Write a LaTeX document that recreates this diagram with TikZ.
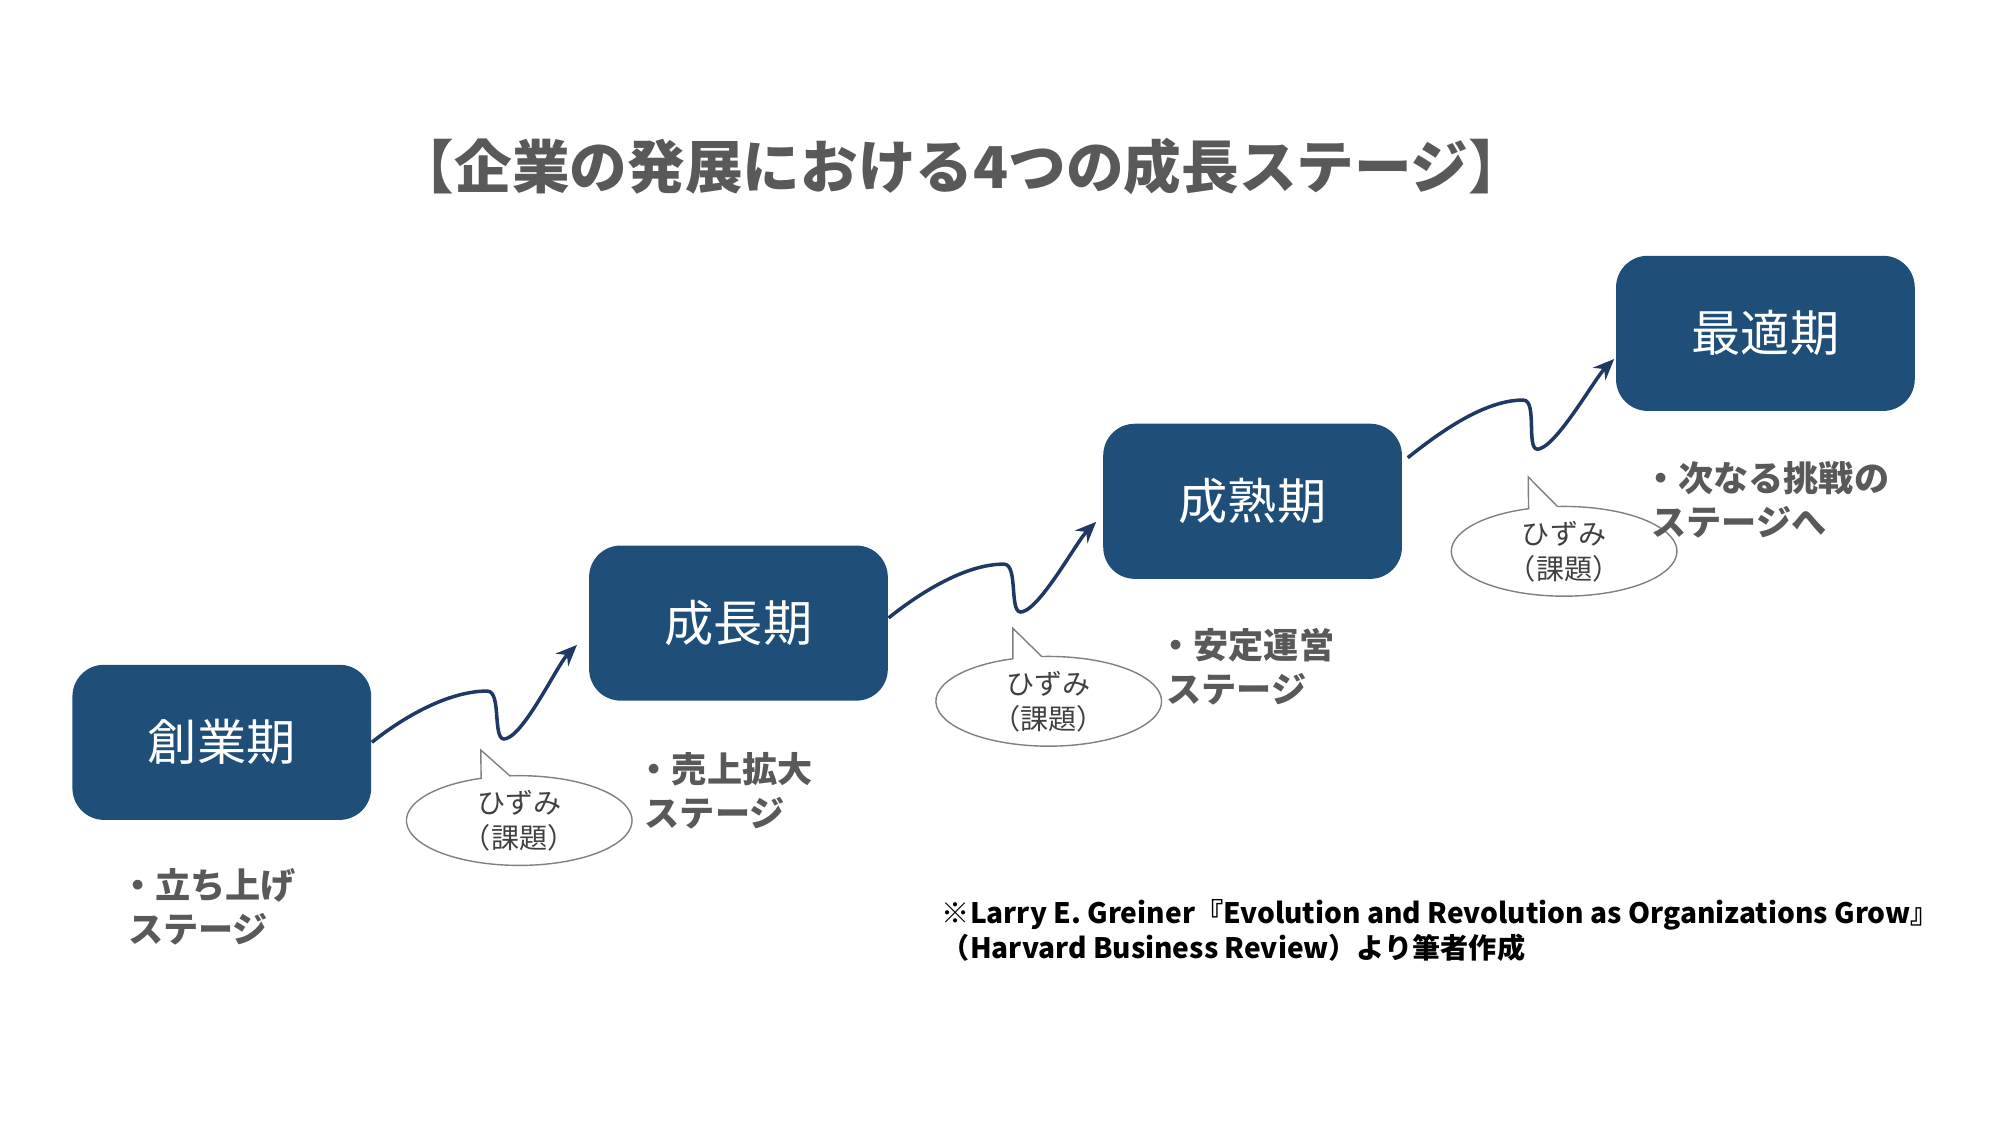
\documentclass[tikz,border=0pt]{standalone}
\usepackage{fontspec}
\setmainfont{Noto Sans CJK JP}
\usetikzlibrary{positioning,calc,shapes.callouts,arrows.meta}
\definecolor{stageblue}{HTML}{1F4E79}
\definecolor{wavecol}{HTML}{203864}
\definecolor{titlegray}{HTML}{595959}
\definecolor{notegray}{HTML}{404040}
\begin{document}
\begin{tikzpicture}[
    x=0.01282cm, y=-0.01282cm,
    stage/.style={fill=stageblue, rounded corners=9pt, minimum width=233*0.01282cm,
        minimum height=121*0.01282cm, text=white, font=\fontsize{14}{16}\selectfont},
    wave/.style={draw=wavecol, line width=1pt, -{Stealth[length=6pt,width=5pt]}},
    strain/.style={ellipse callout, draw=gray, line width=0.4pt, fill=white,
        minimum width=176*0.01282cm, minimum height=70*0.01282cm, inner sep=0pt,
        align=center, text=notegray, font=\fontsize{8}{10}\selectfont},
    remark/.style={anchor=north west, align=left, text=titlegray,
        font=\bfseries\fontsize{10}{12.5}\selectfont}
]
\useasboundingbox (0,0) rectangle (1560,878);

% Title
\node (title) [text=titlegray, font=\bfseries\fontsize{16.4}{18}\selectfont] at (750,130)
    {【企業の発展における4つの成長ステージ】};

% Stages
\node (b1) [stage] at (173,579) {創業期};
\node (b2) [stage] at (576,486) {成長期};
\node (b3) [stage] at (977,391) {成熟期};
\node (b4) [stage] at (1377,260) {最適期};

% Growth waves
\draw[wave] (b1.east) .. controls +(25,-20) and +(-30,0) .. ++(90,-40)
    .. controls +(12,0) and +(-12,5) .. ++(15,37)
    .. controls +(15,-5) and +(-15,15) .. ++(55,-73);
\draw[wave] ($(b2.east)+(0,-4)$) .. controls +(25,-20) and +(-30,0) .. ++(90,-42)
    .. controls +(12,0) and +(-12,5) .. ++(15,37)
    .. controls +(15,-5) and +(-15,15) .. ++(57,-70);
\draw[wave] ($(b3.east)+(4,-34)$) .. controls +(25,-20) and +(-30,0) .. ++(90,-45)
    .. controls +(12,0) and +(-12,5) .. ++(13,38)
    .. controls +(15,-5) and +(-15,15) .. ++(58,-70);

% Strains
\node (c1) [strain, callout absolute pointer={(375,585)}] at (405,640) {ひずみ\\（課題）};
\node (c2) [strain, callout absolute pointer={(790,490)}] at (818,547) {ひずみ\\（課題）};
\node (c3) [strain, callout absolute pointer={(1192,372)}] at (1220,430) {ひずみ\\（課題）};

% Remarks
\node (r1) [remark] at ($(b1.south west)+(28,28)$) {・立ち上げ\\\ ステージ};
\node (r2) [remark] at ($(b2.south west)+(28,30)$) {・売上拡大\\\ ステージ};
\node (r3) [remark] at ($(b3.south west)+(34,28)$) {・安定運営\\\ ステージ};
\node (r4) [remark] at ($(b4.south west)+(12,29)$) {・次なる挑戦の\\\ ステージへ};

% Source
\node (src) [anchor=north west, align=left, font=\bfseries\fontsize{8}{10}\selectfont]
    at (725,692) {※Larry E. Greiner『Evolution and Revolution as Organizations Grow』\\（Harvard Business Review）より筆者作成};
\end{tikzpicture}
\end{document}
